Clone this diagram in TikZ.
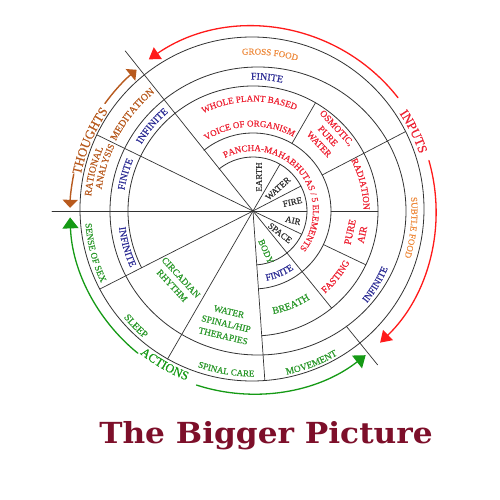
\documentclass[tikz,border=0pt]{standalone}
\usepackage{fontspec}
\setmainfont{Liberation Serif}[FakeBold=0.5]
\newfontfamily\titlefont{DejaVu Serif}
\usetikzlibrary{decorations.text,arrows.meta}
\definecolor{orng}{HTML}{EE8A3C}
\definecolor{blu}{HTML}{2E2E96}
\definecolor{rd}{HTML}{EE2233}
\definecolor{grn}{HTML}{2A982A}
\definecolor{brn}{HTML}{B85A1E}
\definecolor{arrred}{HTML}{FF1A1A}
\definecolor{arrgrn}{HTML}{159A15}
\definecolor{ttl}{HTML}{7D0F2A}
\definecolor{ln}{HTML}{333333}
\definecolor{gry}{HTML}{333333}
\newcommand{\fsz}[1]{\fontsize{#1}{#1}\selectfont}
% clockwise text: radius, centre angle, half span, colour, size, text
\newcommand{\cwt}[6]{\path[decorate,decoration={text along path,text align=center,text={|\color{#4}\fsz{#5}|#6}}] ({#2+#3}:#1pt) arc[start angle={#2+#3},end angle={#2-#3},radius=#1pt];}
% counter-clockwise text
\newcommand{\ccwt}[6]{\path[decorate,decoration={text along path,text align=center,text={|\color{#4}\fsz{#5}|#6}}] ({#2-#3}:#1pt) arc[start angle={#2-#3},end angle={#2+#3},radius=#1pt];}
\tikzset{
  ring/.style={draw=ln,line width=0.8pt},
  rad/.style={draw=ln,line width=0.7pt},
  lbl/.style={inner sep=0pt,align=center},
  inner/.style={lbl,text=gry,font=\fsz{9}},
  arrR/.style={arrred,line width=1.3pt,-{Triangle[length=11pt,width=14pt]}},
  arrG/.style={arrgrn,line width=1.3pt,-{Triangle[length=11pt,width=16pt]}},
  arrB/.style={brn,line width=1.4pt,-{Triangle[length=8pt,width=15pt]}},
}
\begin{document}
\begin{tikzpicture}[x=1pt,y=1pt,line cap=round]
\useasboundingbox (-253,-289) rectangle (247,211);
\fill[white] (-253,-289) rectangle (247,211);
\coordinate (O) at (0,0);
% rings
\draw[ring] (-1,2) circle[radius=172pt];
\draw[ring] (5,0) ellipse[x radius=148pt,y radius=144pt];
\draw[ring] (-86:125pt) arc[start angle=-86,end angle=207,radius=125pt];
\draw[ring] (-86:54pt) arc[start angle=-86,end angle=129,radius=54pt];
\draw[ring] (-86:78pt) arc[start angle=-86,end angle=129,radius=78pt];
% radial lines crossing the whole disc
\foreach \a/\r in {128.6/205,154/173.5,180/201,207/172,240/171,274/170,309/125}
  \draw[rad] (O) -- (\a:\r pt);
% radial lines interrupted by the five-elements band
\foreach \a/\r in {0/125,27.5/172,60/125,334.5/125}{
  \draw[rad] (O) -- (\a:54pt);
  \draw[rad] (\a:78pt) -- (\a:\r pt);}
\coordinate (m1) at (309:148pt);
\coordinate (m2) at (309:198pt);
\draw[rad] (m1) -- (m2);
% outer ring labels
\cwt{156.5}{83.8}{40}{orng}{9}{GROSS FOOD}
\cwt{158.5}{-6}{30}{orng}{9}{SUBTLE FOOD}
\ccwt{167}{291}{20}{grn}{9.5}{MOVEMENT}
\ccwt{165.5}{260.5}{20}{grn}{9}{SPINAL CARE}
\ccwt{167.5}{224.5}{15}{grn}{10}{SLEEP}
\ccwt{168}{194.8}{20}{grn}{9.2}{SENSE OF SEX}
\cwt{162.5}{166}{20}{brn}{9.8}{RATIONAL}
\cwt{153}{163.3}{20}{brn}{9.3}{ANALYSIS}
\cwt{154}{141.3}{25}{brn}{10}{MEDITATION}
% C-B ring labels
\cwt{131.5}{84}{30}{blu}{10}{FINITE}
\cwt{130}{139.9}{25}{blu}{10}{INFINITE}
\cwt{130.3}{163.9}{15}{blu}{10}{FINITE}
\ccwt{135}{195.9}{20}{blu}{10}{INFINITE}
\ccwt{146.5}{-31}{25}{blu}{9.7}{INFINITE}
% middle ring labels
\cwt{109.5}{92}{60}{rd}{9}{WHOLE PLANT BASED}
\cwt{84.5}{92.5}{70}{rd}{9}{VOICE OF ORGANISM}
\cwt{110.5}{14}{20}{rd}{9.3}{RADIATION}
\ccwt{109.5}{-38.5}{20}{rd}{9.5}{FASTING}
\ccwt{105}{292}{20}{grn}{10}{BREATH}
\node[lbl,text=rd,rotate=-47,font=\fontsize{9.4}{12}\selectfont] (osm) at (45:106pt) {OSMOTIC,\\PURE\\WATER};
\node[lbl,text=rd,rotate=77.8,font=\fontsize{10}{12.5}\selectfont] (pair) at (-12.2:105.5pt) {PURE\\AIR};
\node[lbl,text=grn,rotate=-47.3,font=\fontsize{9.3}{12}\selectfont] (circ) at (222.7:104pt) {CIRCADIAN\\RHYTHM};
\node[lbl,text=grn,rotate=-13.4,font=\fontsize{9.3}{12.5}\selectfont] (wat) at (256.6:116pt) {WATER\\SPINAL/HIP\\THERAPIES};
% pancha ring
\cwt{60}{39.5}{85}{rd}{9}{PANCHA-MAHABHUTAS / 5 ELEMENTS}
\ccwt{71}{293}{15}{blu}{9.5}{FINITE}
% inner labels
\node[inner,rotate=90] (earth) at (6,34) {EARTH};
\node[inner,rotate=42] (water) at (25,22.5) {WATER};
\node[inner,rotate=13] (fire) at (39.5,9) {FIRE};
\node[inner,rotate=-13] (air) at (40,-9.5) {AIR};
\node[inner,rotate=-38] (space) at (27,-22) {SPACE};
\node[inner,text=grn,rotate=-66] (body) at (13,-40.5) {BODY};
% arrows
\draw[arrB] (144:183pt) arc[start angle=144,end angle=129.5,radius=183pt];
\draw[arrB] (168.5:183pt) arc[start angle=168.5,end angle=179,radius=183pt];
\cwt{176}{156.8}{25}{brn}{13}{THOUGHTS}
\draw[arrR] (38:184pt) arc[start angle=38,end angle=124.5,radius=184pt];
\draw[arrR] (16:183pt) arc[start angle=16,end angle=-46,radius=183pt];
\cwt{176}{26.3}{20}{rd}{13}{INPUTS}
\draw[arrG] (231:183pt) arc[start angle=231,end angle=182,radius=183pt];
\draw[arrG] (252:183pt) arc[start angle=252,end angle=308,radius=183pt];
\ccwt{182}{240.1}{20}{arrgrn}{12.5}{ACTIONS}
% title
\node[anchor=base,text=ttl,font=\titlefont\bfseries\fsz{29},xscale=1.076] (title) at (13,-232) {The Bigger Picture};
\end{tikzpicture}
\end{document}
